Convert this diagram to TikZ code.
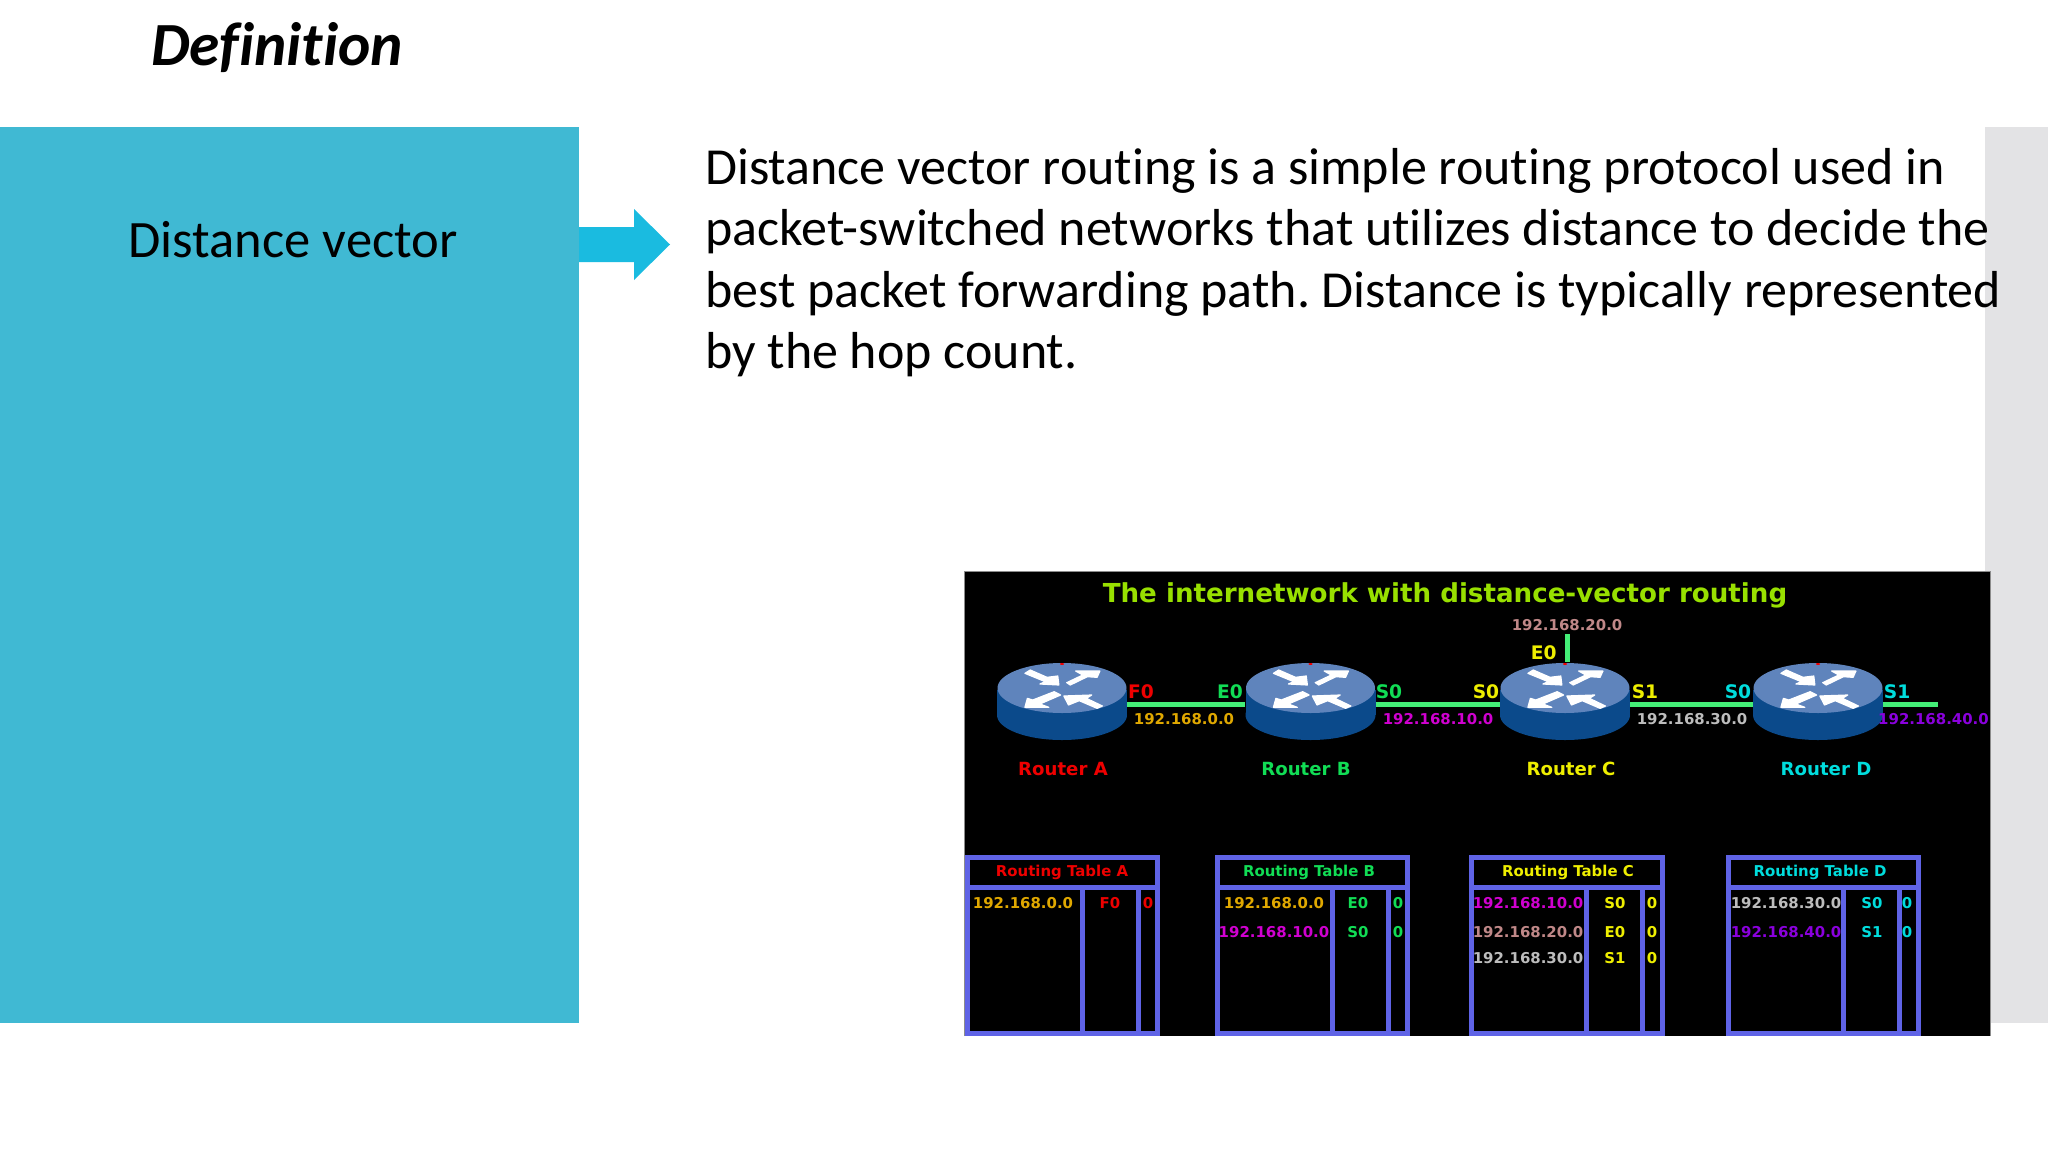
\documentclass[tikz,border=0pt]{standalone}
\usepackage{fontspec}
\setmainfont[Ligatures={NoCommon}]{Carlito}
\newfontfamily\netfont{DejaVu Sans}
\definecolor{panel}{HTML}{40B9D3}
\definecolor{strip}{HTML}{E3E3E5}
\definecolor{arrowc}{HTML}{1ABBE0}
\definecolor{titlec}{HTML}{98E000}
\definecolor{tblue}{HTML}{5F63E6}
\definecolor{wire}{HTML}{44EE77}
\definecolor{rtop}{HTML}{5F84BC}
\definecolor{rbody}{HTML}{0B4A8B}
\definecolor{cred}{HTML}{EE0000}
\definecolor{cgreen}{HTML}{11DD55}
\definecolor{cyel}{HTML}{EEEE00}
\definecolor{ccyan}{HTML}{00DDDD}
\definecolor{corange}{HTML}{E0A800}
\definecolor{cmag}{HTML}{D000D0}
\definecolor{cpink}{HTML}{C08888}
\definecolor{cgrey}{HTML}{BDBDBD}
\definecolor{cpurp}{HTML}{8A00DD}
\tikzset{
  lbl/.style={inner sep=0pt,font=\netfont\bfseries\fontsize{11.2}{13}\selectfont},
  portlbl/.style={inner sep=0pt,font=\netfont\bfseries\fontsize{14}{16}\selectfont},
  namelbl/.style={inner sep=0pt,font=\netfont\bfseries\fontsize{13.6}{16}\selectfont},
  routerbox/.style={inner sep=0pt,minimum width=97.5pt,minimum height=40pt},
  wireline/.style={wire,line width=3.75pt},
  tableline/.style={tblue,line width=3.75pt},
  routerarrow/.style={fill=white,draw=white,line width=.9pt,line join=round}
}
\newcommand\lab[6][lbl]{\node[#1,text=#5] (#2) at (#3,#4) {#6};}
\newcommand\routerat[2]{%
  \fill[rbody] (#2-65,690) rectangle (#2+65,715);
  \fill[rbody] (#2,715) ellipse [x radius=65,y radius=25];
  \fill[rtop] (#2,688) ellipse [x radius=64.5,y radius=25];
  \fill[cred] (#2,664) ellipse [x radius=2,y radius=1];
  \begin{scope}[shift={(#2-102.5,570)},x=.268pt,y=-.25pt]
    \path[routerarrow] (183,310)--(198,300)--(245,322)--(275,318)--(278,345)--(225,342)--(240,335)--cycle;
    \path[routerarrow] (300,338)--(345,315)--(325,303)--(393,303)--(385,322)--(358,320)--(310,345)--cycle;
    \path[routerarrow] (183,412)--(190,385)--(205,390)--(265,365)--(283,375)--(225,402)--(250,412)--cycle;
    \path[routerarrow] (292,378)--(370,375)--(355,385)--(400,408)--(385,415)--(335,392)--(305,405)--cycle;
  \end{scope}
  \node[routerbox] (#1) at (#2,704.5) {};
}
\newcommand\rtable[4]{%
  \draw[tableline] (#1,857.5) rectangle (#2,1033);
  \draw[tableline] (#1,887) -- (#2,887);
  \draw[tableline] (#3,887) -- (#3,1033);
  \draw[tableline] (#4,887) -- (#4,1033);
}
\frenchspacing
\begin{document}
\begin{tikzpicture}[x=.75pt,y=-.75pt]
\useasboundingbox (0,0) rectangle (2048,1152);
\fill[white] (0,0) rectangle (2048,1152);
\fill[strip] (1985,127) rectangle (2048,1023);
\fill[panel] (0,127) rectangle (579,1023);
\fill[arrowc] (579,227)--(634,227)--(634,209)--(670,244.5)--(634,280)--(634,262)--(579,262)--cycle;
\node[inner sep=0pt,font=\fontsize{46}{52}\selectfont\bfseries\itshape] (heading) at (277,47.5) {Definition};
\node[inner sep=0pt,font=\fontsize{39.4}{46}\selectfont] (term) at (293,240) {Distance vector};
\node[inner sep=0pt,anchor=north west,align=left,font=\fontsize{39}{46}\selectfont] (definition) at (705,148)
 {Distance vector routing is a simple routing protocol used in\\
  packet-switched networks that utilizes distance to decide the\\
  best packet forwarding path. Distance is typically represented\\
  by the hop count.};
% network picture
\fill[black] (964,571) rectangle (1990,1036);
\draw[black!45,line width=.75pt] (964,1036) -- (964,571) -- (1990,571) -- (1990,1036);
\node[inner sep=0pt,text=titlec,font=\netfont\bfseries\fontsize{19.6}{23}\selectfont] (nettitle) at (1445,595) {The internetwork with distance-vector routing};
\routerat{ra}{1062}
\routerat{rb}{1310.5}
\routerat{rc}{1565}
\routerat{rd}{1818}
\coordinate (stub) at (1567.5,634);
\coordinate (stubfoot) at (1567.5,662);
\coordinate (dend) at (1938,704.5);
\draw[wireline] (ra.east) -- (rb.west);
\draw[wireline] (rb.east) -- (rc.west);
\draw[wireline] (rc.east) -- (rd.west);
\draw[wireline] (rd.east) -- (dend);
\draw[wireline] (stub) -- (stubfoot);
\lab[portlbl]{pF}{1141}{692}{cred}{F0}
\lab[portlbl]{pEb}{1230}{692}{cgreen}{E0}
\lab[portlbl]{pSb}{1389}{692}{cgreen}{S0}
\lab[portlbl]{pSc}{1486}{692}{cyel}{S0}
\lab[portlbl]{pEc}{1543.6}{653}{cyel}{E0}
\lab[portlbl]{pSi}{1645}{692}{cyel}{S1}
\lab[portlbl]{pSd}{1738}{692}{ccyan}{S0}
\lab[portlbl]{pSj}{1897}{692}{ccyan}{S1}
\lab{n0}{1184}{719}{corange}{192.168.0.0}
\lab{n1}{1438}{719}{cmag}{192.168.10.0}
\lab{n2}{1567}{625}{cpink}{192.168.20.0}
\lab{n3}{1692}{719}{cgrey}{192.168.30.0}
\node[lbl,text=cpurp,anchor=east] (n4) at (1989,719) {192.168.40.0};
\lab[namelbl]{nameA}{1063}{769}{cred}{Router A}
\lab[namelbl]{nameB}{1306}{769}{cgreen}{Router B}
\lab[namelbl]{nameC}{1571}{769}{cyel}{Router C}
\lab[namelbl]{nameD}{1826}{769}{ccyan}{Router D}
% tables
\rtable{967.5}{1157}{1082}{1138}
\rtable{1217}{1407}{1332}{1388}
\rtable{1471.7}{1662}{1586.7}{1642.5}
\rtable{1728}{1918.5}{1843}{1899}
\lab{tA}{1062}{872}{cred}{Routing Table A}
\lab{tAa}{1023}{903}{corange}{192.168.0.0}
\lab{tAb}{1110}{903}{cred}{F0}
\lab{tAc}{1148}{903}{cred}{0}
\lab{tB}{1309}{872}{cgreen}{Routing Table B}
\lab{tBa}{1274}{903}{corange}{192.168.0.0}
\lab{tBb}{1358}{903}{cgreen}{E0}
\lab{tBc}{1398}{903}{cgreen}{0}
\lab{tBd}{1274}{932}{cmag}{192.168.10.0}
\lab{tBe}{1358}{932}{cgreen}{S0}
\lab{tBf}{1398}{932}{cgreen}{0}
\lab{tC}{1568}{872}{cyel}{Routing Table C}
\lab{tCa}{1528}{903}{cmag}{192.168.10.0}
\lab{tCb}{1615}{903}{cyel}{S0}
\lab{tCc}{1652}{903}{cyel}{0}
\lab{tCd}{1528}{932}{cpink}{192.168.20.0}
\lab{tCe}{1615}{932}{cyel}{E0}
\lab{tCf}{1652}{932}{cyel}{0}
\lab{tCg}{1528}{958}{cgrey}{192.168.30.0}
\lab{tCh}{1615}{958}{cyel}{S1}
\lab{tCi}{1652}{958}{cyel}{0}
\lab{tD}{1820}{872}{ccyan}{Routing Table D}
\lab{tDa}{1786}{903}{cgrey}{192.168.30.0}
\lab{tDb}{1872}{903}{ccyan}{S0}
\lab{tDc}{1907}{903}{ccyan}{0}
\lab{tDd}{1786}{932}{cpurp}{192.168.40.0}
\lab{tDe}{1872}{932}{ccyan}{S1}
\lab{tDf}{1907}{932}{ccyan}{0}
\end{tikzpicture}
\end{document}
